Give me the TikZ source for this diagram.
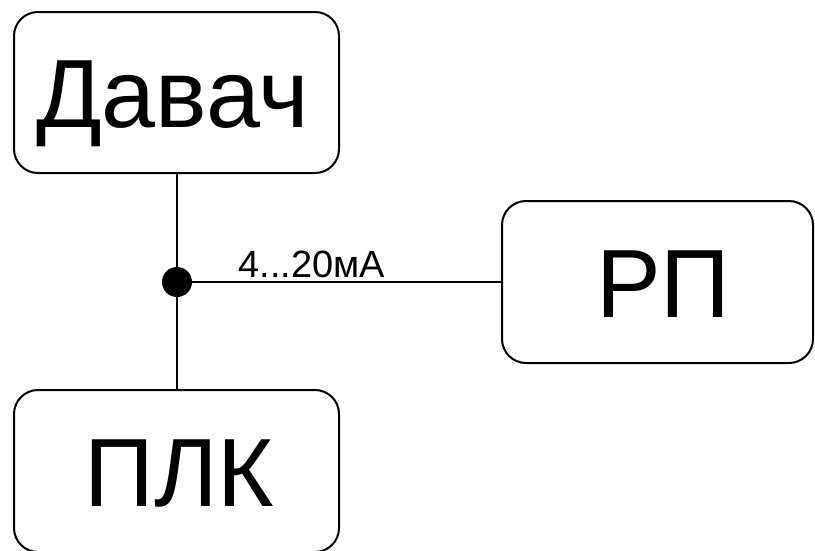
\documentclass[tikz,border=0pt]{standalone}
\usepackage{fontspec}
\setmainfont{Liberation Sans}
\begin{document}
\begin{tikzpicture}[x=1pt,y=-1pt,
  blockbox/.style={draw,line width=2pt,rounded corners=24pt},
  bigtext/.style={font=\fontsize{97}{97}\selectfont,anchor=base,inner sep=0pt},
  wire/.style={line width=2pt},
  junction/.style={circle,fill=black,inner sep=0pt,minimum size=30pt}]
\useasboundingbox (0,0) rectangle (815,550);
% blocks
\draw[blockbox] (14,12) rectangle (339,173);
\node[bigtext] (sensor) at (172.5,127) {Давач};
\draw[blockbox] (502,201) rectangle (813,363);
\node[bigtext] (rp) at (663.5,317) {РП};
\draw[blockbox] (14,390) rectangle (339,552);
\node[bigtext] (plc) at (179.5,506) {ПЛК};
% boundary coordinates of the blocks
\coordinate (sensorB) at (177,173);
\coordinate (plcT) at (177,390);
\coordinate (rpL) at (502,282);
% junction and wiring
\node[junction] (j) at (177,282) {};
\draw[wire] (sensorB) -- (plcT);
\draw[wire] (j.center) -- (rpL);
\node[anchor=base,inner sep=0pt,font=\fontsize{38}{38}\selectfont] (lbl) at (312,277) {4...20мА};
\end{tikzpicture}
\end{document}
